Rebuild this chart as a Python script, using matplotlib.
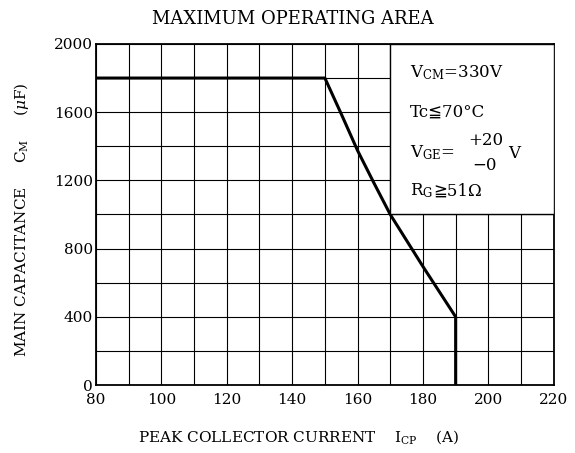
import matplotlib
matplotlib.use("Agg")
import matplotlib.pyplot as plt
from matplotlib.patches import Rectangle
from matplotlib.ticker import MultipleLocator

plt.rcParams['font.family'] = ['DejaVu Serif', 'DejaVu Sans']
plt.rcParams['mathtext.fontset'] = 'dejavuserif'

# Data
current = [80, 150, 155, 160, 165, 170, 180, 190, 190]
capacitance = [1800, 1800, 1590, 1375, 1185, 1000, 695, 400, 0]
x_ticks = [80, 100, 120, 140, 160, 180, 200, 220]
y_ticks = [0, 400, 800, 1200, 1600, 2000]

fig = plt.figure(figsize=(5.75, 4.53), dpi=100)
ax = fig.add_axes([0.167, 0.150, 0.796, 0.753])

ax.set_xlim(80, 220)
ax.set_ylim(0, 2000)
ax.set_xticks(x_ticks)
ax.set_xticklabels([str(v) for v in x_ticks], fontfamily='DejaVu Serif', fontsize=11)
ax.set_yticks(y_ticks)
ax.set_yticklabels([str(v) for v in y_ticks], fontfamily='DejaVu Serif', fontsize=11)
ax.xaxis.set_minor_locator(MultipleLocator(10))
ax.yaxis.set_minor_locator(MultipleLocator(200))
ax.grid(True, which='both', color='black', linewidth=0.8, zorder=1)
ax.tick_params(axis='x', which='both', length=0, pad=6)
ax.tick_params(axis='y', which='both', length=0, pad=2)
for lbl in ax.get_yticklabels():
    lbl.set_verticalalignment('center_baseline')
for s in ax.spines.values():
    s.set_linewidth(1.3)

ax.plot(current, capacitance, color='black', linewidth=2.2, zorder=3)

# inset box
ax.add_patch(Rectangle((170, 1000), 50, 1000, facecolor='white', edgecolor='black',
                       linewidth=1.0, zorder=4))
fs = 12
ax.text(176, 1830, r'V$_{\mathrm{CM}}$=330V', fontsize=fs, va='center', zorder=5)
ax.text(176, 1600, 'Tc≦70°C', fontsize=fs, va='center', zorder=5)
ax.text(176, 1360, r'V$_{\mathrm{GE}}$=', fontsize=fs, va='center', zorder=5)
ax.text(194, 1435, '+20', fontsize=fs, va='center', zorder=5)
ax.text(195, 1290, '−0', fontsize=fs, va='center', zorder=5)
ax.text(206, 1360, 'V', fontsize=fs, va='center', zorder=5)
ax.text(176, 1140, r'R$_{\mathrm{G}}$', fontsize=fs, va='center', zorder=5)
ax.text(183.3, 1140, '≧51Ω', fontsize=fs, va='center', zorder=5,
        family=['DejaVu Serif', 'DejaVu Sans'])

fig.text(0.51, 0.958, 'MAXIMUM OPERATING AREA', fontsize=13, ha='center', va='center')
fig.text(0.52, 0.035, r'PEAK COLLECTOR CURRENT    I$_{\mathrm{CP}}$    (A)', fontsize=11,
         ha='center', va='center')
fig.text(0.038, 0.514, r'MAIN CAPACITANCE     C$_{\mathrm{M}}$     ($\mu$F)', fontsize=11,
         ha='center', va='center', rotation=90)

fig.savefig('out.png', dpi=100)
